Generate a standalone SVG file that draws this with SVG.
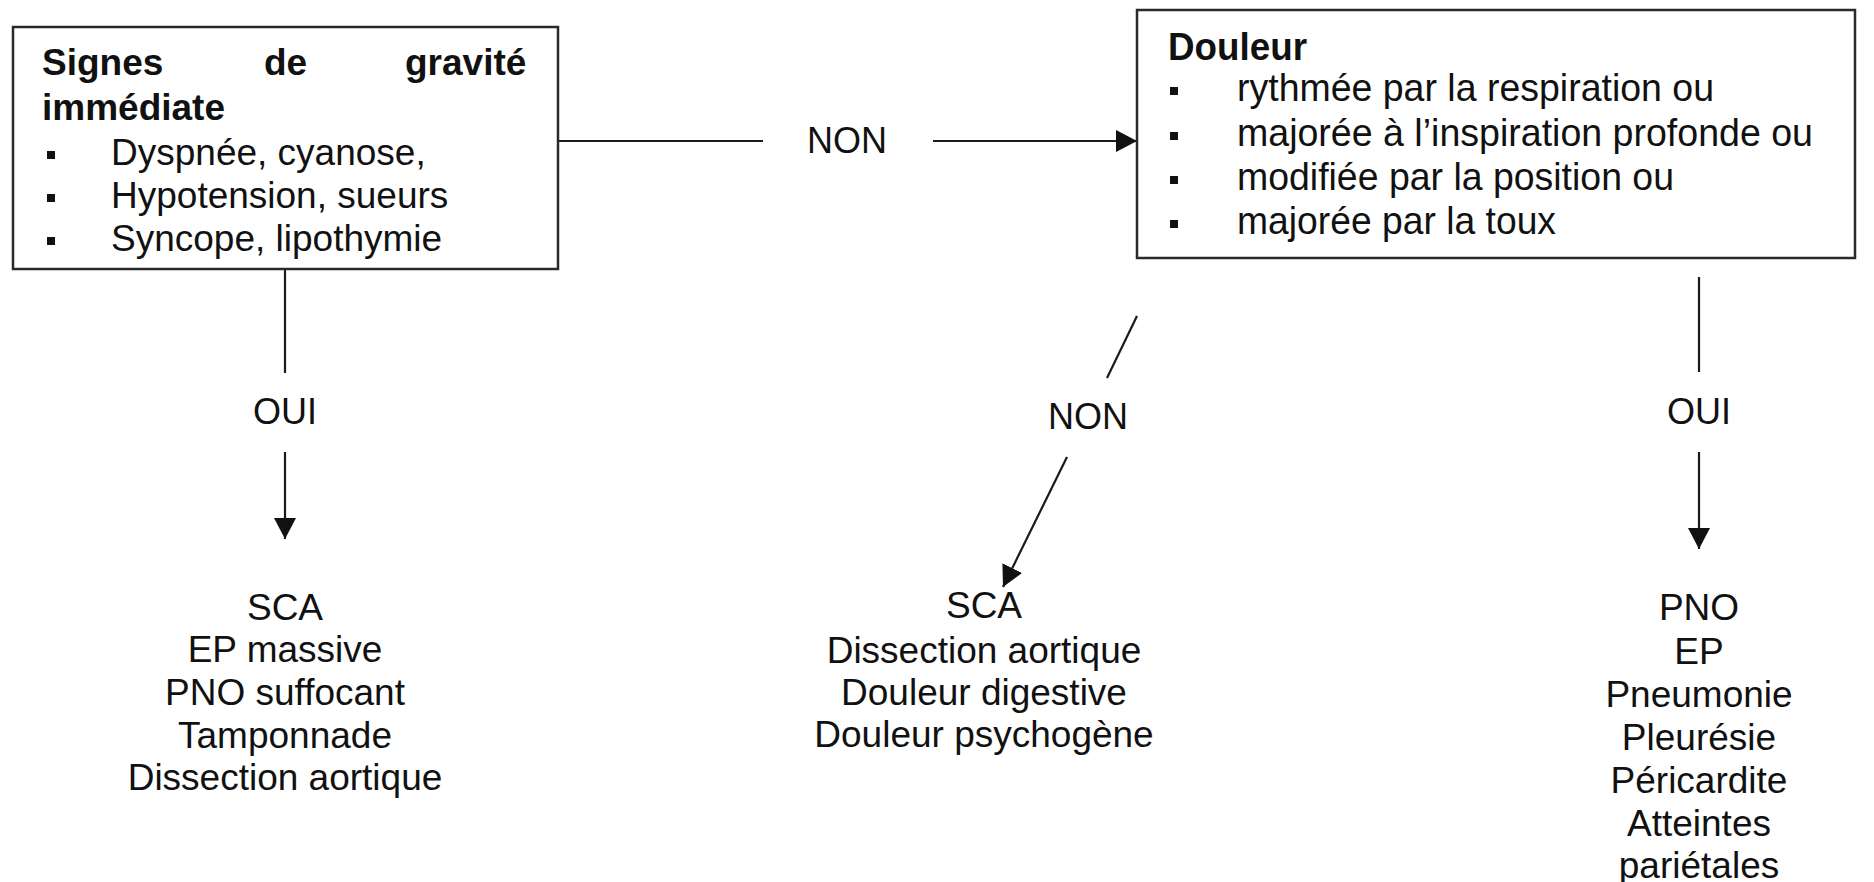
<svg xmlns="http://www.w3.org/2000/svg" width="1874" height="882" viewBox="0 0 1874 882">
<style>
  .box { fill: #ffffff; stroke: #2a2a2a; stroke-width: 2.5; }
  .t { font-family: "Liberation Sans", Arial, sans-serif; font-size: 37px; fill: #111; }
  .r { font-family: "Liberation Sans", Arial, sans-serif; font-size: 39px; fill: #111; }
  .b { font-weight: bold; }
  .lbl { font-family: "Liberation Sans", Arial, sans-serif; font-size: 36px; fill: #111; text-anchor: middle; }
  .c { text-anchor: middle; }
  .bul { fill: #111; }
  .conn { stroke: #1a1a1a; stroke-width: 2.2; fill: none; }
</style>
<defs>
  <marker id="ah" viewBox="0 0 21 22" refX="21" refY="11" markerWidth="21" markerHeight="22" markerUnits="userSpaceOnUse" orient="auto">
    <path d="M0,0 L21,11 L0,22 z" fill="#111"/>
  </marker>
</defs>
<rect width="1874" height="882" fill="#ffffff"/>

<g id="connectors">
  <line class="conn" x1="558" y1="141" x2="763" y2="141"/>
  <line class="conn" x1="933" y1="141" x2="1137" y2="141" marker-end="url(#ah)"/>
  <line class="conn" x1="285" y1="269" x2="285" y2="373"/>
  <line class="conn" x1="285" y1="452" x2="285" y2="539" marker-end="url(#ah)"/>
  <line class="conn" x1="1137" y1="316" x2="1107" y2="378"/>
  <line class="conn" x1="1067" y1="457" x2="1003" y2="587" marker-end="url(#ah)"/>
  <line class="conn" x1="1699" y1="277" x2="1699" y2="372"/>
  <line class="conn" x1="1699" y1="452" x2="1699" y2="549" marker-end="url(#ah)"/>
  <text class="lbl" x="847" y="153">NON</text>
  <text class="lbl" x="285" y="424">OUI</text>
  <text class="lbl" x="1088" y="429">NON</text>
  <text class="lbl" x="1699" y="424">OUI</text>
</g>

<g id="node-gravite">
  <rect class="box" x="13" y="27" width="545" height="242"/>
  <text class="t b" x="42" y="75">Signes</text>
  <text class="t b" x="264" y="75">de</text>
  <text class="t b" x="405" y="75">gravité</text>
  <text class="t b" x="42" y="120">immédiate</text>
  <rect class="bul" x="47" y="151" width="8" height="8"/>
  <text class="t" x="111" y="165">Dyspnée, cyanose,</text>
  <rect class="bul" x="47" y="194" width="8" height="8"/>
  <text class="t" x="111" y="208">Hypotension, sueurs</text>
  <rect class="bul" x="47" y="237" width="8" height="8"/>
  <text class="t" x="111" y="251">Syncope, lipothymie</text>
</g>

<g id="node-douleur">
  <rect class="box" x="1137" y="10" width="718" height="248"/>
  <text class="r b" x="1168" y="60" textLength="139" lengthAdjust="spacingAndGlyphs">Douleur</text>
  <rect class="bul" x="1170" y="87" width="8" height="8"/>
  <text class="r" x="1237" y="101" textLength="477" lengthAdjust="spacingAndGlyphs">rythmée par la respiration ou</text>
  <rect class="bul" x="1170" y="132" width="8" height="8"/>
  <text class="r" x="1237" y="146" textLength="576" lengthAdjust="spacingAndGlyphs">majorée à l’inspiration profonde ou</text>
  <rect class="bul" x="1170" y="176" width="8" height="8"/>
  <text class="r" x="1237" y="190" textLength="437" lengthAdjust="spacingAndGlyphs">modifiée par la position ou</text>
  <rect class="bul" x="1170" y="220" width="8" height="8"/>
  <text class="r" x="1237" y="234" textLength="319" lengthAdjust="spacingAndGlyphs">majorée par la toux</text>
</g>

<g id="node-oui-gravite">
  <text class="t c" x="285" y="620">SCA</text>
  <text class="t c" x="285" y="662">EP massive</text>
  <text class="t c" x="285" y="705">PNO suffocant</text>
  <text class="t c" x="285" y="748">Tamponnade</text>
  <text class="t c" x="285" y="790">Dissection aortique</text>
</g>

<g id="node-non-douleur">
  <text class="t c" x="984" y="618">SCA</text>
  <text class="t c" x="984" y="663">Dissection aortique</text>
  <text class="t c" x="984" y="705">Douleur digestive</text>
  <text class="t c" x="984" y="747">Douleur psychogène</text>
</g>

<g id="node-oui-douleur">
  <text class="t c" x="1699" y="620">PNO</text>
  <text class="t c" x="1699" y="664">EP</text>
  <text class="t c" x="1699" y="707">Pneumonie</text>
  <text class="t c" x="1699" y="750">Pleurésie</text>
  <text class="t c" x="1699" y="793">Péricardite</text>
  <text class="t c" x="1699" y="836">Atteintes</text>
  <text class="t c" x="1699" y="878">pariétales</text>
</g>
</svg>
